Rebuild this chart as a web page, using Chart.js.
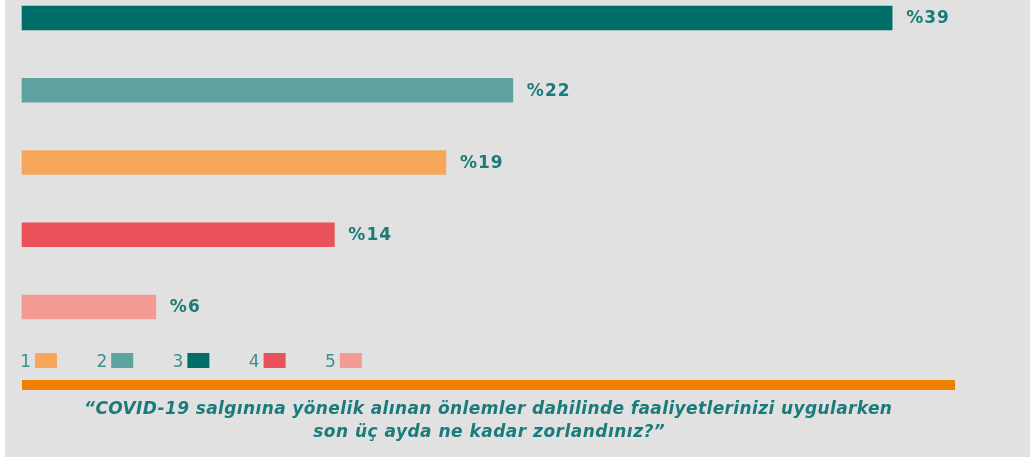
<!DOCTYPE html>
<html lang="tr">
<head>
<meta charset="utf-8">
<title>COVID-19 zorlanma düzeyi</title>
<script src="https://cdn.jsdelivr.net/npm/chart.js@4.4.1/dist/chart.umd.min.js"></script>
<style>
  html, body { margin: 0; padding: 0; background: #e1e1e1; overflow: hidden; }
  #chart { display: block; }
</style>
</head>
<body>
<canvas id="chart" width="1030" height="457"></canvas>
<script>
// bars top to bottom (scale answer 1-5)
const categories = ['3', '2', '1', '4', '5'];
const values = [39, 22, 19, 14, 6];
const legendKeys = ['1', '2', '3', '4', '5'];
const keyColors = {
  '1': '#f6a75a',
  '2': '#5fa3a0',
  '3': '#006e68',
  '4': '#e9525a',
  '5': '#f39b93'
};
const question = [
  '“COVID-19 salgınına yönelik alınan önlemler dahilinde faaliyetlerinizi uygularken',
  'son üç ayda ne kadar zorlandınız?”'
];

const teal = '#1b7b7b';

// fit a line to a target width by spreading the letters
function spacedText(ctx, text, x, y, target) {
  ctx.letterSpacing = '0px';
  const w = ctx.measureText(text).width;
  const sp = Math.max(0, (target - w) / text.length);
  ctx.letterSpacing = sp.toFixed(2) + 'px';
  ctx.fillText(text, x + sp / 2, y);
  ctx.letterSpacing = '0px';
}

const decor = {
  id: 'decor',
  beforeDraw(chart) {
    const ctx = chart.ctx;
    ctx.save();
    ctx.fillStyle = '#ffffff';
    ctx.fillRect(0, 0, chart.width, chart.height);
    ctx.fillStyle = '#e1e1e1';
    ctx.fillRect(5, 0, chart.width - 5, chart.height);
    ctx.restore();
  },
  afterDatasetsDraw(chart) {
    const ctx = chart.ctx;
    const meta = chart.getDatasetMeta(0);
    ctx.save();

    // value labels
    ctx.font = "bold 17px 'DejaVu Sans', sans-serif";
    ctx.fillStyle = teal;
    ctx.textBaseline = 'middle';
    meta.data.forEach((bar, i) => {
      ctx.letterSpacing = '1px';
      ctx.fillText('%' + values[i], bar.x + 14, bar.y + 1);
    });
    ctx.letterSpacing = '0px';

    // legend: number then swatch
    ctx.font = "17px 'DejaVu Sans', sans-serif";
    ctx.textBaseline = 'alphabetic';
    ctx.textAlign = 'right';
    legendKeys.forEach((k, i) => {
      const sx = 35 + i * 76.2;
      ctx.fillStyle = '#3a8f8f';
      ctx.fillText(k, sx - 4, 367);
      ctx.fillStyle = keyColors[k];
      ctx.fillRect(sx, 353, 22, 15);
    });

    // orange rule
    ctx.fillStyle = '#f07f00';
    ctx.fillRect(22, 380, 933, 10);

    // question
    ctx.fillStyle = teal;
    ctx.textAlign = 'center';
    ctx.font = "italic bold 17px 'DejaVu Sans', sans-serif";
    spacedText(ctx, question[0], 488, 414, 808);
    spacedText(ctx, question[1], 489, 437, 352);
    ctx.restore();
  }
};

new Chart(document.getElementById('chart'), {
  type: 'bar',
  data: {
    labels: categories,
    datasets: [{
      data: values,
      backgroundColor: categories.map(c => keyColors[c]),
      barThickness: 24,
      borderWidth: 0,
      clip: false
    }]
  },
  options: {
    indexAxis: 'y',
    responsive: false,
    animation: false,
    layout: { padding: { left: 22, right: 4, top: 18, bottom: 150 } },
    plugins: {
      legend: { display: false },
      tooltip: { enabled: false }
    },
    scales: {
      x: { display: false, min: 0, max: 45, grid: { display: false } },
      y: { display: false, offset: false, grid: { display: false } }
    }
  },
  plugins: [decor]
});
</script>
</body>
</html>
